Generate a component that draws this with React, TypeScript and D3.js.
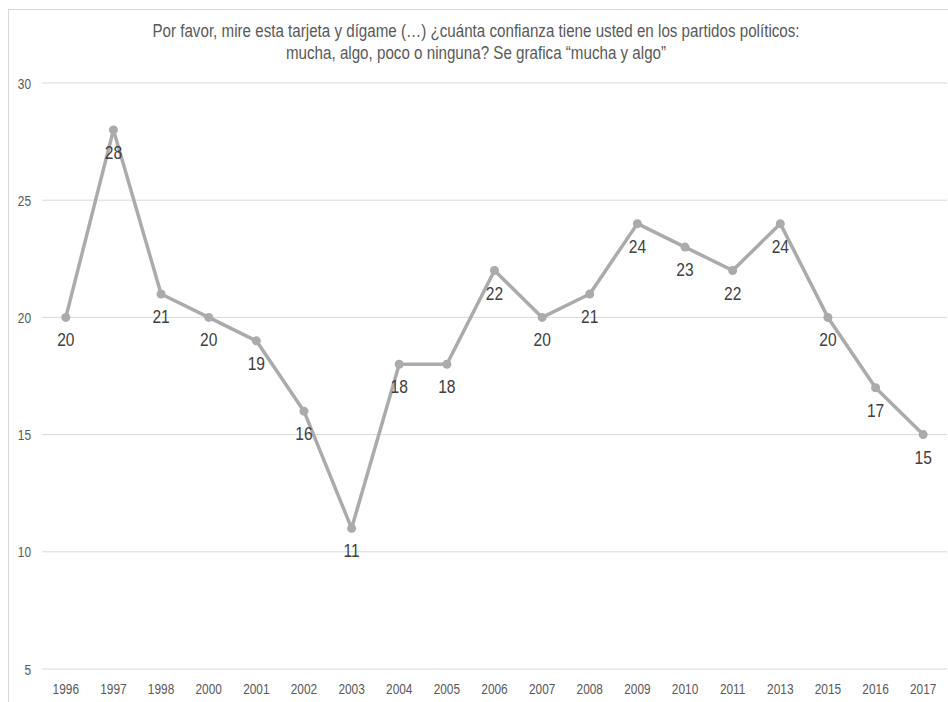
import React from "react";
import * as d3 from "d3";

const years = ["1996","1997","1998","2000","2001","2002","2003","2004","2005","2006","2007","2008","2009","2010","2011","2013","2015","2016","2017"];
const values = [20,28,21,20,19,16,11,18,18,22,20,21,24,23,22,24,20,17,15];
const yTicks = [5,10,15,20,25,30];
const titleLines = [
  "Por favor, mire esta tarjeta y dígame (…) ¿cuánta confianza tiene usted en los partidos políticos:",
  "mucha, algo, poco o ninguna? Se grafica “mucha y algo”",
];

const W = 948, H = 702;
const FONT = "'Liberation Sans', Arial, sans-serif";
const SX = 0.82;

function NText(props: { x: number; y: number; size: number; fill: string; anchor?: string; children: React.ReactNode }) {
  const { x, y, size, fill, anchor = "middle", children } = props;
  return (
    <text
      transform={`translate(${x},${y}) scale(${SX},1)`}
      textAnchor={anchor as any}
      fontFamily={FONT}
      fontSize={size}
      fill={fill}
    >
      {children}
    </text>
  );
}

export default function App() {
  const x = d3.scaleBand<string>().domain(years).range([42, 947]);
  const y = d3.scaleLinear().domain([5, 30]).range([669, 83]);
  const cx = (d: string) => (x(d) as number) + x.bandwidth() / 2;
  const line = d3.line<number>().x((_, i) => cx(years[i])).y((v) => y(v));

  return (
    <svg width={W} height={H} style={{ position: "absolute", left: 0, top: 0, background: "#fff" }}>
      <rect x={8.5} y={9.5} width={W} height={H} fill="#fff" stroke="#d9d9d9" strokeWidth={1} />
      {titleLines.map((t, i) => (
        <NText key={i} x={476} y={37 + i * 22} size={18.5} fill="#595959">{t}</NText>
      ))}
      {yTicks.map((t) => (
        <g key={t}>
          <line x1={42} x2={947} y1={y(t)} y2={y(t)} stroke="#d9d9d9" strokeWidth={1} />
          <NText x={31} y={y(t) + 5.5} size={14.5} fill="#595959" anchor="end">{t}</NText>
        </g>
      ))}
      {years.map((yr) => (
        <NText key={yr} x={cx(yr)} y={693.5} size={14.5} fill="#595959">{yr}</NText>
      ))}
      <path d={line(values) || ""} fill="none" stroke="#ababab" strokeWidth={3.5} strokeLinejoin="round" />
      {values.map((v, i) => (
        <circle key={i} cx={cx(years[i])} cy={y(v)} r={4.5} fill="#ababab" />
      ))}
      {values.map((v, i) => (
        <NText key={"l" + i} x={cx(years[i])} y={y(v) + 29} size={19} fill="#404040">{v}</NText>
      ))}
    </svg>
  );
}
